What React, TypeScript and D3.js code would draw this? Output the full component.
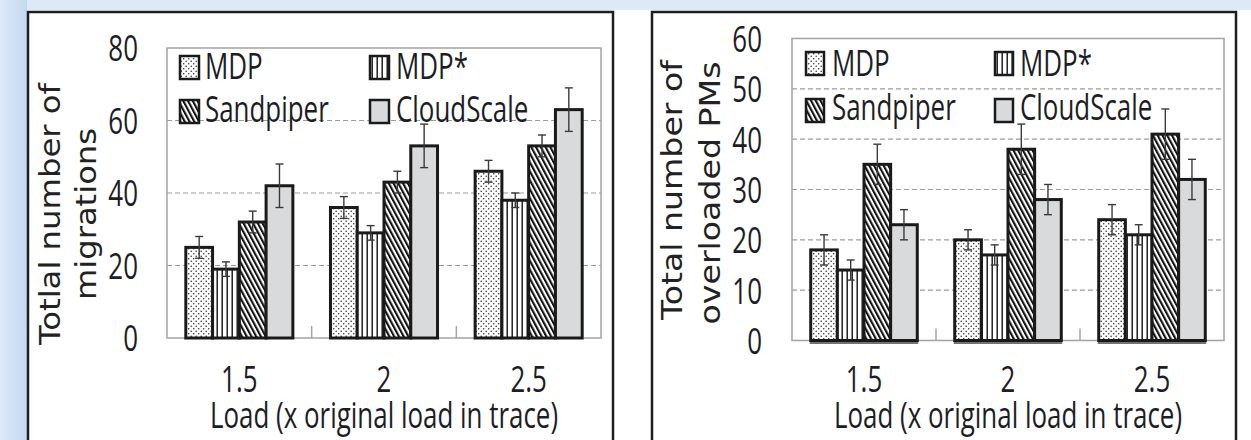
import React, { useEffect, useRef } from 'react';
import * as d3 from 'd3';

const categories = ['1.5', '2', '2.5'];
const seriesNames = ['MDP', 'MDP*', 'Sandpiper', 'CloudScale'];
const seriesFills = ['url(#dots)', 'url(#vlines)', 'url(#diag)', '#d9dadc'];

// left chart: total number of migrations
const migMDP = [25, 36, 46];
const migMDPStar = [19, 29, 38];
const migSandpiper = [32, 43, 53];
const migCloudScale = [42, 53, 63];
const migErrMDP = [3, 3, 3];
const migErrMDPStar = [2, 2, 2];
const migErrSandpiper = [3, 3, 3];
const migErrCloudScale = [6, 6, 6];
const migTicks = [0, 20, 40, 60, 80];

// right chart: total number of overloaded PMs
const pmMDP = [18, 20, 24];
const pmMDPStar = [14, 17, 21];
const pmSandpiper = [35, 38, 41];
const pmCloudScale = [23, 28, 32];
const pmErrMDP = [3, 2, 3];
const pmErrMDPStar = [2, 2, 2];
const pmErrSandpiper = [4, 5, 5];
const pmErrCloudScale = [3, 3, 4];
const pmTicks = [0, 10, 20, 30, 40, 50, 60];

const xTitle = 'Load (x original load in trace)';
const ink = '#1d1d26';
const cond = 0.72;

const panels = [
  {
    frameX: 28, frameW: 585,
    left: 167, right: 601, top: 48, bottom: 338,
    ticks: migTicks, labelRight: 138,
    means: [migMDP, migMDPStar, migSandpiper, migCloudScale],
    errs: [migErrMDP, migErrMDPStar, migErrSandpiper, migErrCloudScale],
    title: ['Totlal number of', 'migrations'], titleX: [60, 96], titleY: [214, 214], titleLen: [262, 172],
    legCols: [180, 370], legTextX: [205, 396], legRows: [56, 100], legBase: [79, 122], sw: 19, sh: 23,
    groupBase: false,
  },
  {
    frameX: 652, frameW: 584,
    left: 792, right: 1224, top: 38.5, bottom: 340.5,
    ticks: pmTicks, labelRight: 762,
    means: [pmMDP, pmMDPStar, pmSandpiper, pmCloudScale],
    errs: [pmErrMDP, pmErrMDPStar, pmErrSandpiper, pmErrCloudScale],
    title: ['Total number of', 'overloaded PMs'], titleX: [682, 720], titleY: [190, 193], titleLen: [260, 263],
    legCols: [806, 995], legTextX: [832, 1020], legRows: [52, 99], legBase: [76, 120], sw: 18, sh: 23,
    groupBase: true,
  },
];

export default function App() {
  const ref = useRef<SVGSVGElement>(null);

  useEffect(() => {
    const svg = d3.select(ref.current);
    svg.selectAll('*').remove();

    const defs = svg.append('defs');
    const grad = defs.append('linearGradient').attr('id', 'edge').attr('x1', 0).attr('x2', 1);
    grad.append('stop').attr('offset', 0).attr('stop-color', '#dde9f7');
    grad.append('stop').attr('offset', 1).attr('stop-color', '#c3d9f1');

    const dots = defs.append('pattern').attr('id', 'dots').attr('patternUnits', 'userSpaceOnUse')
      .attr('width', 5).attr('height', 5);
    dots.append('rect').attr('width', 5).attr('height', 5).attr('fill', '#fff');
    dots.append('circle').attr('cx', 1.2).attr('cy', 1.2).attr('r', 0.8).attr('fill', '#333');
    dots.append('circle').attr('cx', 3.7).attr('cy', 3.7).attr('r', 0.8).attr('fill', '#333');

    const vl = defs.append('pattern').attr('id', 'vlines').attr('patternUnits', 'userSpaceOnUse')
      .attr('width', 5).attr('height', 5);
    vl.append('rect').attr('width', 5).attr('height', 5).attr('fill', '#fff');
    vl.append('rect').attr('x', 1.5).attr('width', 1.4).attr('height', 5).attr('fill', '#111');

    const dg = defs.append('pattern').attr('id', 'diag').attr('patternUnits', 'userSpaceOnUse')
      .attr('width', 4.2).attr('height', 4.2).attr('patternTransform', 'rotate(-28)');
    dg.append('rect').attr('width', 4.2).attr('height', 4.2).attr('fill', '#fff');
    dg.append('rect').attr('width', 2.1).attr('height', 4.2).attr('fill', '#111');

    // page background
    svg.append('rect').attr('width', 1251).attr('height', 440).attr('fill', '#fff');
    svg.append('rect').attr('width', 1251).attr('height', 10).attr('fill', '#dde9f7');
    svg.append('rect').attr('width', 27).attr('height', 440).attr('fill', 'url(#edge)');

    panels.forEach(p => {
      svg.append('rect')
        .attr('x', p.frameX).attr('y', 12).attr('width', p.frameW).attr('height', 460)
        .attr('fill', '#fff').attr('stroke', '#1e1e1e').attr('stroke-width', 2.5);

      const g = svg.append('g');
      const y = d3.scaleLinear().domain([0, p.ticks[p.ticks.length - 1]]).range([p.bottom, p.top]);
      const x = d3.scaleBand().domain(categories).range([p.left, p.right])
        .paddingInner(0.26).paddingOuter(0.13);
      const xs = d3.scaleBand().domain(seriesNames).range([0, x.bandwidth()]);

      // dashed grid
      g.selectAll('.grid').data(p.ticks.slice(1, -1)).enter().append('line')
        .attr('x1', p.left).attr('x2', p.right)
        .attr('y1', d => y(d)).attr('y2', d => y(d))
        .attr('stroke', '#9c9c9c').attr('stroke-width', 1.2).attr('stroke-dasharray', '5,3');

      g.append('rect')
        .attr('x', p.left).attr('y', p.top).attr('width', p.right - p.left).attr('height', p.bottom - p.top)
        .attr('fill', 'none').attr('stroke', '#a3a3a3').attr('stroke-width', 1.5);

      // small separators between groups
      g.selectAll('.sep').data(categories.slice(1)).enter().append('line')
        .attr('x1', d => x(d)! - x.step() * 0.13).attr('x2', d => x(d)! - x.step() * 0.13)
        .attr('y1', p.bottom - 12).attr('y2', p.bottom)
        .attr('stroke', '#a3a3a3').attr('stroke-width', 1.5);

      if (p.groupBase) {
        g.selectAll('.base').data(categories).enter().append('line')
          .attr('x1', d => x(d)! - 1).attr('x2', d => x(d)! + x.bandwidth() + 1)
          .attr('y1', p.bottom + 2.5).attr('y2', p.bottom + 2.5)
          .attr('stroke', '#444').attr('stroke-width', 1.5);
      }

      seriesNames.forEach((s, si) => {
        const bars = g.append('g');
        bars.selectAll('rect').data(categories).enter().append('rect')
          .attr('x', d => x(d)! + xs(s)!)
          .attr('y', (d, i) => y(p.means[si][i]))
          .attr('width', xs.bandwidth())
          .attr('height', (d, i) => p.bottom - y(p.means[si][i]))
          .attr('fill', seriesFills[si])
          .attr('stroke', '#1a1a1a').attr('stroke-width', 3);
      });

      // error bars
      seriesNames.forEach((s, si) => {
        categories.forEach((c, i) => {
          const cx = x(c)! + xs(s)! + xs.bandwidth() / 2;
          const hi = y(p.means[si][i] + p.errs[si][i]);
          const lo = y(p.means[si][i] - p.errs[si][i]);
          const eb = g.append('g').attr('stroke', '#3a3a3a').attr('stroke-width', 1.4);
          eb.append('line').attr('x1', cx).attr('x2', cx).attr('y1', hi).attr('y2', lo);
          eb.append('line').attr('x1', cx - 4).attr('x2', cx + 4).attr('y1', hi).attr('y2', hi);
          eb.append('line').attr('x1', cx - 4).attr('x2', cx + 4).attr('y1', lo).attr('y2', lo);
        });
      });

      // legend
      seriesNames.forEach((s, i) => {
        const col = i % 2, row = Math.floor(i / 2);
        g.append('rect')
          .attr('x', p.legCols[col]).attr('y', p.legRows[row]).attr('width', p.sw).attr('height', p.sh)
          .attr('fill', seriesFills[i]).attr('stroke', '#1a1a1a').attr('stroke-width', 2.5);
        g.append('text')
          .attr('transform', `translate(${p.legTextX[col]},${p.legBase[row]}) scale(${cond},1)`)
          .attr('font-family', '"Open Sans", sans-serif').attr('font-size', 36).attr('fill', ink)
          .text(s);
      });

      // y axis labels
      const yAxis = g.append('g').attr('transform', `translate(${p.labelRight},0)`)
        .call(d3.axisLeft(y).tickValues(p.ticks).tickSize(0).tickPadding(0));
      yAxis.select('.domain').remove();
      yAxis.selectAll('text')
        .attr('x', 0).attr('dy', '0.36em').attr('transform', `scale(${cond},1)`)
        .attr('font-family', '"Open Sans", sans-serif').attr('font-size', 36).attr('fill', ink);

      // x axis labels
      const xAxis = g.append('g').attr('transform', 'translate(0,392)')
        .call(d3.axisBottom(x).tickSize(0).tickPadding(0));
      xAxis.select('.domain').remove();
      xAxis.selectAll('text')
        .attr('y', 0).attr('dy', 0).attr('transform', `scale(${cond},1)`)
        .attr('font-family', '"Open Sans", sans-serif').attr('font-size', 36).attr('fill', ink);

      g.append('text')
        .attr('transform', `translate(${(p.left + p.right) / 2},428) scale(${cond},1)`)
        .attr('text-anchor', 'middle')
        .attr('font-family', '"Open Sans", sans-serif').attr('font-size', 36).attr('fill', ink)
        .text(xTitle);

      p.title.forEach((t, k) => {
        g.append('text')
          .attr('transform', `translate(${p.titleX[k]},${p.titleY[k]}) rotate(-90)`)
          .attr('text-anchor', 'middle')
          .attr('textLength', p.titleLen[k]).attr('lengthAdjust', 'spacingAndGlyphs')
          .attr('font-family', '"DejaVu Sans", sans-serif').attr('font-size', 28).attr('fill', '#222')
          .text(t);
      });
    });
  }, []);

  return (
    <svg ref={ref} width={1251} height={440}
      style={{ position: 'absolute', left: 0, top: 0, display: 'block' }} />
  );
}
